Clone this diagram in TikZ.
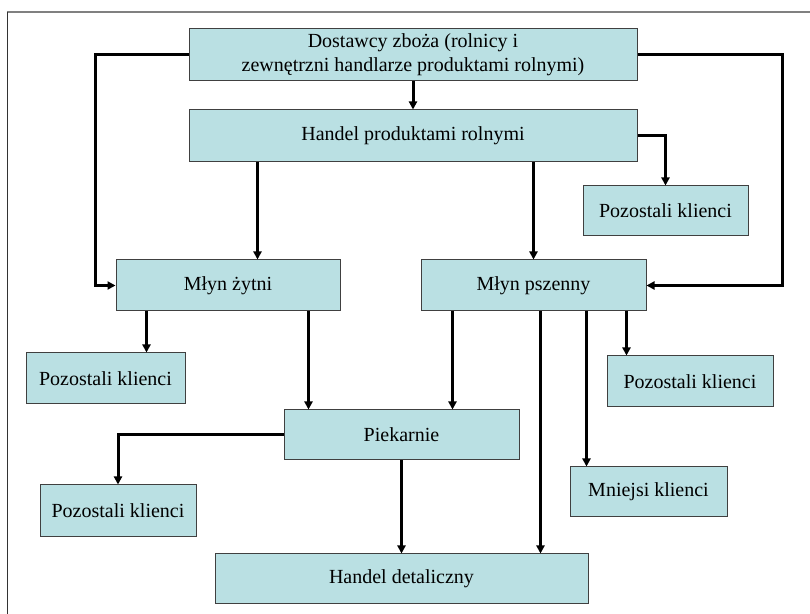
\documentclass[tikz,border=0pt]{standalone}
\usepackage{fontspec}
\setmainfont{Liberation Serif}
\usepackage{tikz}
\usetikzlibrary{arrows.meta,positioning}
\definecolor{boxfill}{HTML}{BAE0E3}
\definecolor{boxline}{HTML}{404040}

\begin{document}
\begin{tikzpicture}[x=0.5pt,y=-0.5pt,
  box/.style={draw=boxline,line width=0.5pt,fill=boxfill,inner sep=0pt,align=center,font=\fontsize{10}{12}\selectfont},
  arr/.style={line width=1.5pt,-{Triangle[width=4pt,length=4pt]}},
  link/.style={line width=1.5pt}]
  \useasboundingbox (0,0) rectangle (810,614);
  % frame of the slide
  \draw[black!50,line width=0.75pt] (7,12) -- (810,12);
  \draw[black!80,line width=0.5pt] (7,12) -- (7,614);

  % Suppliers and trade
  \node[box,minimum width=224pt,minimum height=26pt] (dost) at (413,55) {Dostawcy zboża (rolnicy i\\zewnętrzni handlarze produktami rolnymi)};
  \node[box,minimum width=224pt,minimum height=26pt] (handel) at (413,136) {Handel produktami rolnymi};
  \node[box,minimum width=82.5pt,minimum height=25pt] (pozA) at (665.5,211) {Pozostali klienci};

  % Mills
  \node[box,minimum width=112pt,minimum height=25.5pt] (zyt) at (228,285.5) {Młyn żytni};
  \node[box,minimum width=112.5pt,minimum height=25.5pt] (psz) at (533.5,285.5) {Młyn pszenny};
  \node[box,minimum width=79.5pt,minimum height=25.5pt] (pozB) at (105.5,378.5) {Pozostali klienci};
  \node[box,minimum width=83pt,minimum height=25.5pt] (pozC) at (690,381.5) {Pozostali klienci};

  % Bakeries and retail
  \node[box,minimum width=117.5pt,minimum height=25pt] (piek) at (401.5,435) {Piekarnie};
  \node[box,minimum width=78pt,minimum height=26pt] (pozD) at (118,511) {Pozostali klienci};
  \node[box,minimum width=78.5pt,minimum height=25pt] (mniej) at (648.5,492) {Mniejsi klienci};
  \node[box,minimum width=186.5pt,minimum height=25pt] (det) at (401.5,579) {Handel detaliczny};

  % Connectors from suppliers
  \draw[arr] (dost.west) -- ++(-46.5pt,0) |- (zyt.west);
  \draw[arr] (dost.east) -- ++(72.5pt,0) |- (psz.east);
  \draw[arr] (dost.south) -- (handel.north);

  % Connectors from trade
  \draw[arr] (handel.east) -| (pozA.north);
  \draw[arr] ([xshift=34.5pt]handel.south west) coordinate (h1) -- (h1 |- zyt.north);
  \draw[arr] (handel.south -| psz.north) -- (psz.north);

  % Connectors from rye mill
  \draw[arr] ([xshift=15.5pt]zyt.south west) coordinate (z1) -- (z1 |- pozB.north);
  \draw[arr] ([xshift=-16pt]zyt.south east) coordinate (z2) -- (z2 |- piek.north);

  % Connectors from wheat mill
  \draw[arr] ([xshift=16pt]psz.south west) coordinate (p1) -- (p1 |- piek.north);
  \draw[arr] ([xshift=60pt]psz.south west) coordinate (p2) -- (p2 |- det.north);
  \draw[arr] ([xshift=83pt]psz.south west) coordinate (p3) -- (p3 |- mniej.north);
  \draw[arr] ([xshift=103pt]psz.south west) coordinate (p4) -- (p4 |- pozC.north);

  % Connectors from bakeries
  \draw[arr] (piek.west) -| (pozD.north);
  \draw[arr] (piek.south) -- (det.north);
\end{tikzpicture}
\end{document}
